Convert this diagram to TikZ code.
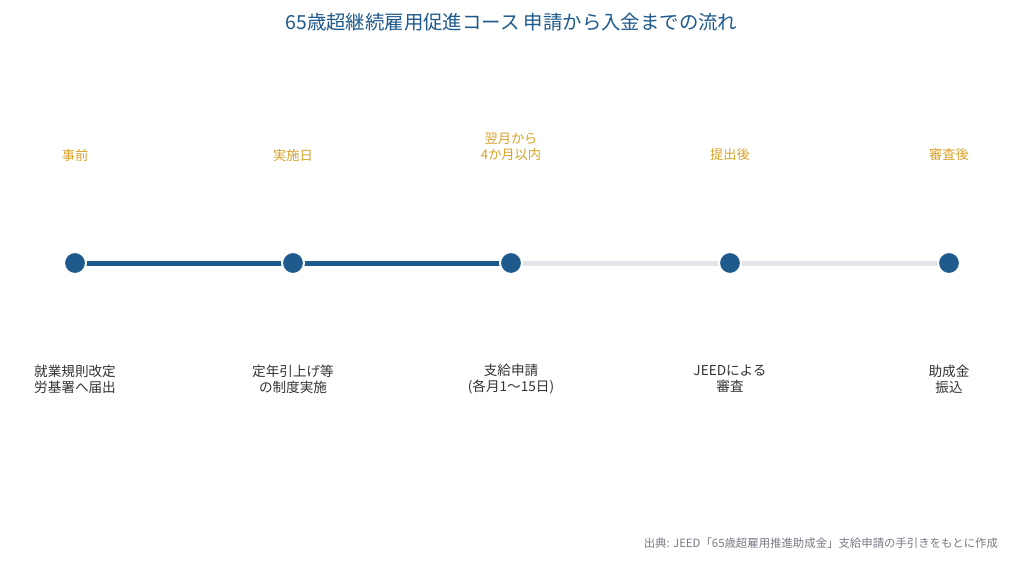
\documentclass[tikz,border=0pt]{standalone}
\usepackage{fontspec}
\setmainfont{Noto Sans CJK JP}
\definecolor{mainblue}{HTML}{1F5A8C}
\definecolor{lightgray}{HTML}{E1E5EA}
\definecolor{gold}{HTML}{D9A32A}
\definecolor{darktext}{HTML}{333333}
\definecolor{notegray}{HTML}{7A7A85}
\tikzset{
  dotnode/.style={circle, fill=mainblue, draw=white, line width=2pt, minimum size=22pt, inner sep=0pt},
  donelink/.style={draw=mainblue, line width=5pt},
  todolink/.style={draw=lightgray, line width=5pt},
  whenlabel/.style={text=gold, font=\fontsize{13.2}{16}\selectfont, align=center},
  whatlabel/.style={text=darktext, font=\fontsize{13.6}{16}\selectfont, align=center},
}
\begin{document}
\begin{tikzpicture}[x=1pt,y=-1pt]
\useasboundingbox[fill=white] (0,0) rectangle (1024,573);
\node[text=mainblue, font=\fontsize{19.4}{23}\selectfont] (title) at (511.5,22) {65歳超継続雇用促進コース 申請から入金までの流れ};
\coordinate (p1) at (75,263);
\coordinate (p2) at (293,263);
\coordinate (p3) at (511,263);
\coordinate (p4) at (730,263);
\coordinate (p5) at (949,263);
\draw[todolink] (p3) -- (p4);
\draw[todolink] (p4) -- (p5);
\draw[donelink] (p1) -- (p2);
\draw[donelink] (p2) -- (p3);
\node[dotnode] (d1) at (p1) {};
\node[dotnode] (d2) at (p2) {};
\node[dotnode] (d3) at (p3) {};
\node[dotnode] (d4) at (p4) {};
\node[dotnode] (d5) at (p5) {};
\node[whenlabel] (w1) at (75,155) {事前};
\node[whenlabel] (w2) at (293,155) {実施日};
\node[whenlabel] (w3) at (511,147) {翌月から\\4か月以内};
\node[whenlabel] (w4) at (730,155) {提出後};
\node[whenlabel] (w5) at (949,155) {審査後};
\node[whatlabel] (t1) at (75,379) {就業規則改定\\労基署へ届出};
\node[whatlabel] (t2) at (293,379) {定年引上げ等\\の制度実施};
\node[whatlabel] (t3) at (511,379) {支給申請\\(各月1〜15日)};
\node[whatlabel] (t4) at (730,379) {JEEDによる\\審査};
\node[whatlabel] (t5) at (949,379) {助成金\\振込};
\node[text=notegray, font=\fontsize{11.4}{13}\selectfont, anchor=east] (src) at (1001.5,543) {出典: JEED「65歳超雇用推進助成金」支給申請の手引きをもとに作成};
\end{tikzpicture}
\end{document}
